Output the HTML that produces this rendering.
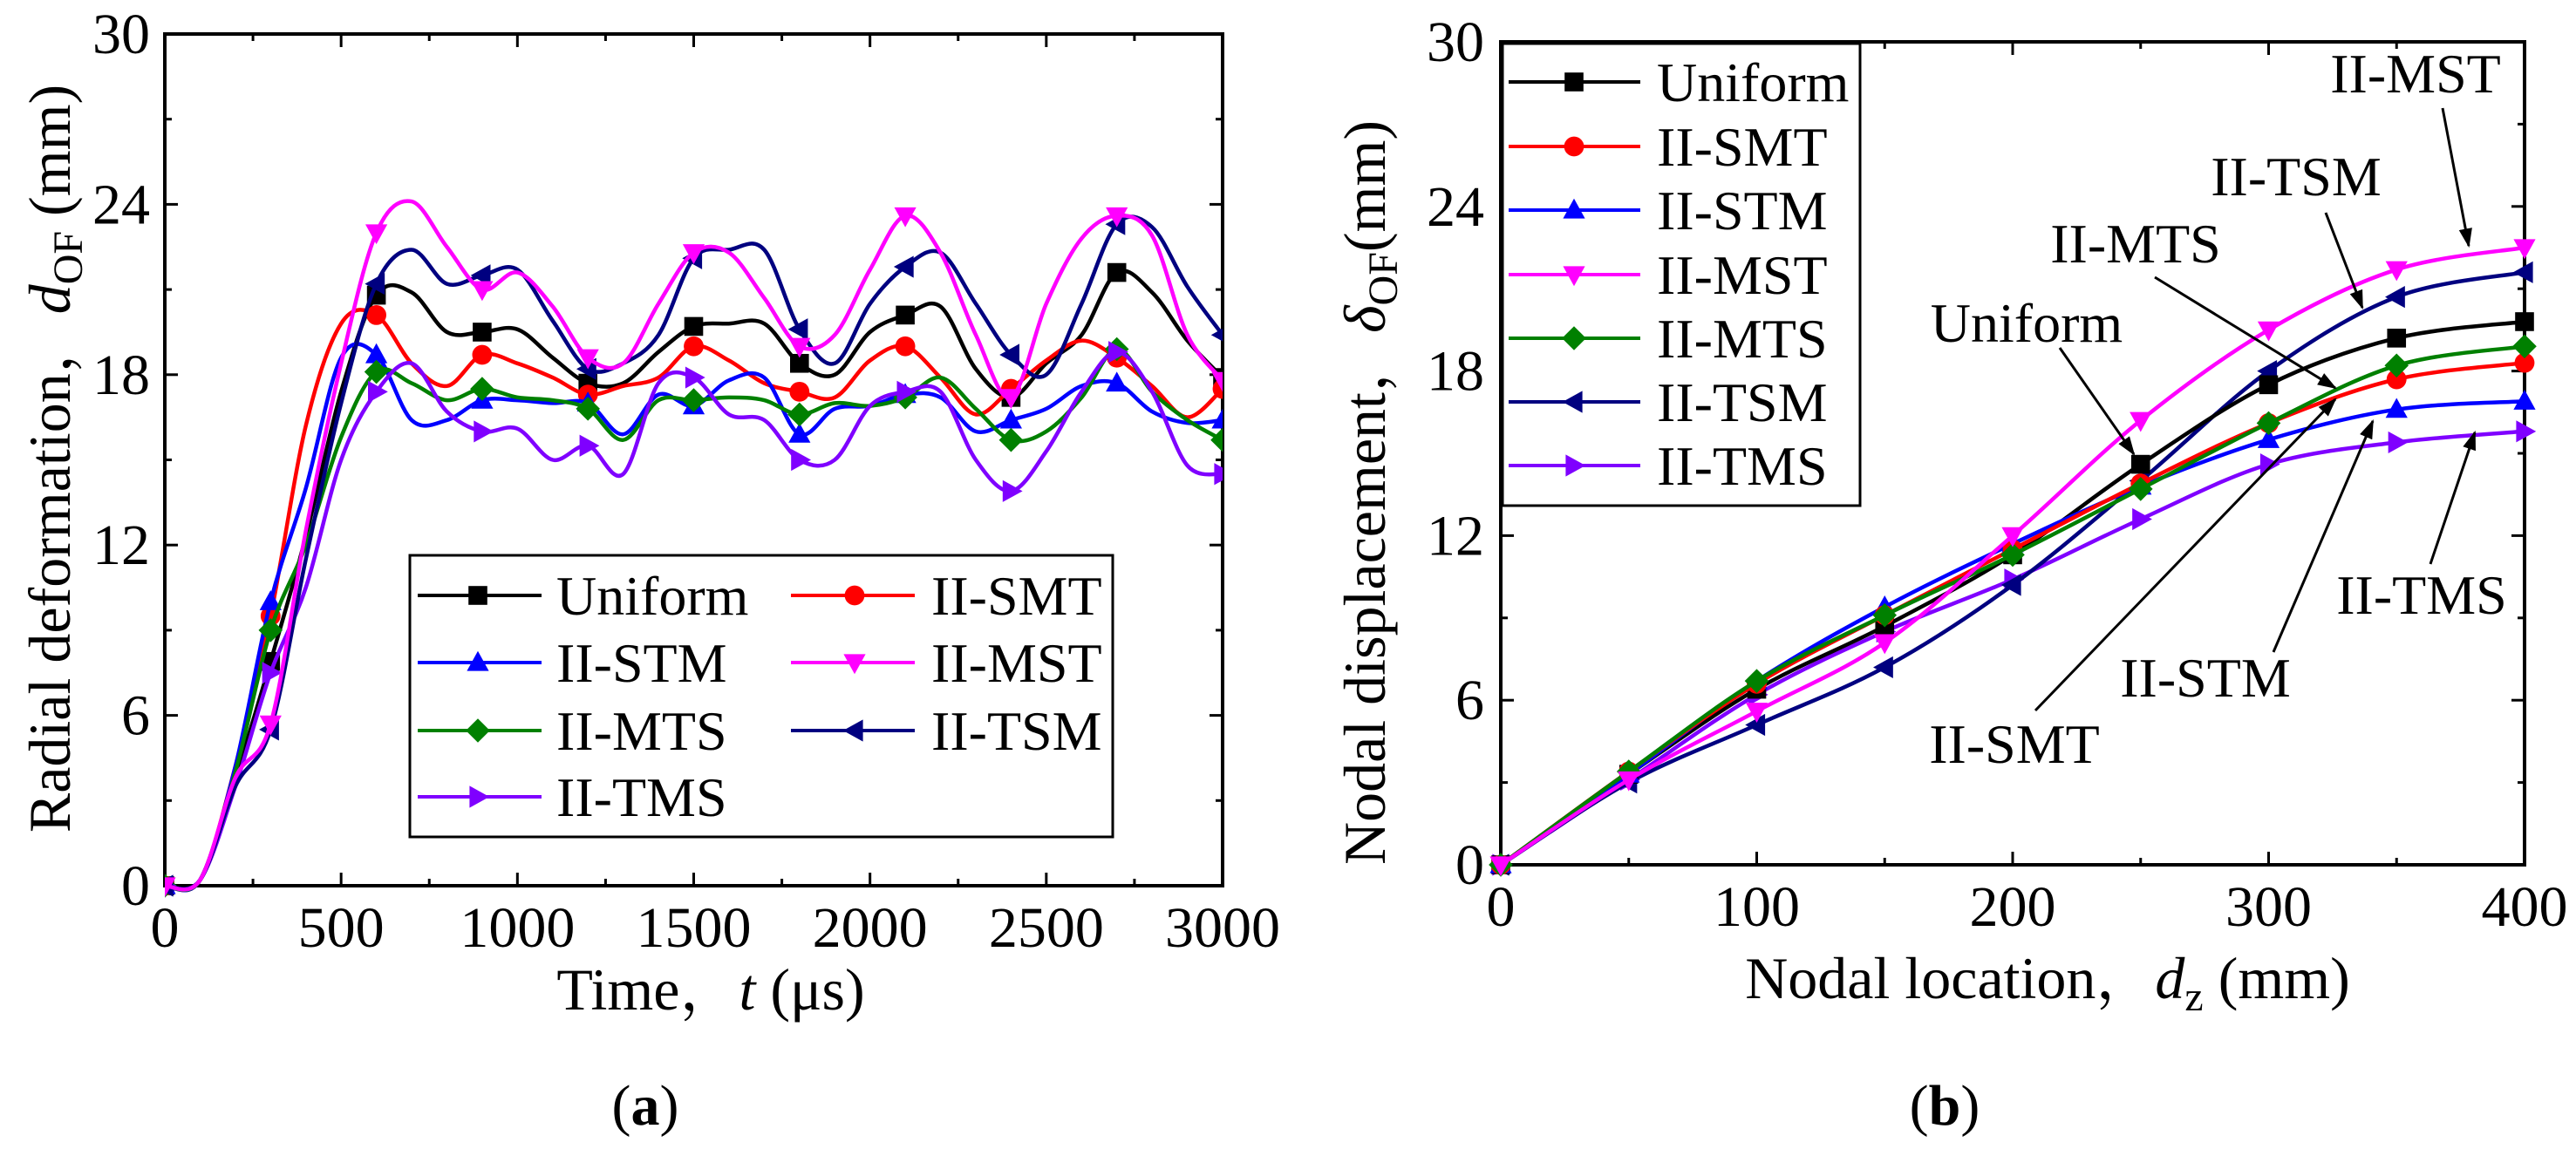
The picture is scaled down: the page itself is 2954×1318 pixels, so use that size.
<!DOCTYPE html>
<html><head><meta charset="utf-8"><style>
html,body{margin:0;padding:0;background:#fff;}
svg{display:block;font-family:"Liberation Serif","Noto Serif CJK SC",serif;}
</style></head><body>
<svg id="fig" width="2954" height="1318" viewBox="0 0 2954 1318" xmlns="http://www.w3.org/2000/svg">
<defs>
<marker id="arrow" viewBox="0 0 10 10" refX="9" refY="5" markerWidth="9" markerHeight="9" markerUnits="userSpaceOnUse" orient="auto">
<path d="M0,0 L10,5 L0,10 z" fill="#000"/>
</marker>
<marker id="arrowB" viewBox="0 0 10 10" refX="9" refY="5" markerWidth="22" markerHeight="22" markerUnits="userSpaceOnUse" orient="auto">
<path d="M0,1.5 L10,5 L0,8.5 z" fill="#000"/>
</marker>
</defs>
<g id="chartA"></g>
<g id="chartB"></g>
</svg>
<script>
// ---------- Chart (a) data ----------
const timeValues = [0,100,200,300,400,500,600,700,800,900,1000,1100,1200,1300,1400,1500,1600,1700,1800,1900,2000,2100,2200,2300,2400,2500,2600,2700,2800,2900,3000];
const aUniform = [0,0.2,3.8,7.9,12.3,17.4,20.8,20.9,19.5,19.5,19.6,18.6,17.7,17.7,18.8,19.7,19.8,19.8,18.4,18.0,19.5,20.1,20.4,18.2,17.2,18.4,19.4,21.6,20.9,19.2,17.9];
const aSMT = [0,0.2,4.2,9.5,16.2,19.8,20.1,18.4,17.6,18.7,18.4,17.9,17.3,17.6,17.9,19.0,18.5,17.7,17.4,17.2,18.5,19.0,17.9,16.6,17.5,18.5,19.2,18.6,17.6,16.5,17.5];
const aSTM = [0,0.2,4.2,10.0,14.0,18.6,18.7,16.4,16.4,17.1,17.1,17.0,17.0,15.9,17.3,16.9,17.8,17.9,15.9,16.8,16.9,17.3,17.2,16.0,16.4,16.8,17.6,17.7,16.7,16.3,16.4];
const aMST = [0,0.2,3.8,5.7,12.5,18.4,23.0,24.1,22.5,21.0,21.6,20.4,18.6,18.4,20.5,22.3,22.3,20.7,19.0,19.4,21.7,23.6,22.3,19.4,17.2,20.5,22.8,23.6,22.9,19.4,17.8];
const aMTS = [0,0.2,4.0,9.0,12.0,15.8,18.1,17.7,17.1,17.5,17.2,17.1,16.8,15.7,17.1,17.1,17.2,17.1,16.6,17.0,16.9,17.2,17.9,16.8,15.7,16.0,17.2,18.9,17.4,16.4,15.7];
const aTSM = [0,0.2,3.5,5.5,11.5,17.0,21.2,22.4,21.2,21.5,21.7,19.9,18.2,18.4,19.4,22.1,22.4,22.4,19.6,18.4,20.5,21.8,22.3,20.5,18.7,18.0,20.5,23.3,23.2,21.1,19.4];
const aTMS = [0,0.2,3.5,7.5,10.5,15.0,17.4,18.4,16.7,16.0,16.1,15.0,15.5,14.5,17.7,17.9,16.6,16.4,15.0,15.0,16.9,17.4,17.4,15.0,13.9,15.3,17.4,18.8,17.4,14.8,14.5];
const aXTicks = [0,500,1000,1500,2000,2500,3000];
const aYTicks = [0,6,12,18,24,30];

// ---------- Chart (b) data ----------
const locValues = [0,50,100,150,200,250,300,350,400];
const bUniform = [0,3.3,6.4,8.7,11.3,14.6,17.5,19.2,19.8];
const bSMT = [0,3.4,6.6,9.1,11.5,13.9,16.1,17.7,18.3];
const bSTM = [0,3.3,6.7,9.4,11.7,13.8,15.5,16.6,16.9];
const bMST = [0,3.1,5.6,8.1,12.0,16.2,19.5,21.7,22.5];
const bMTS = [0,3.4,6.7,9.1,11.3,13.7,16.1,18.2,18.9];
const bTSM = [0,3.0,5.1,7.2,10.2,14.0,18.0,20.7,21.6];
const bTMS = [0,3.1,6.2,8.5,10.4,12.6,14.6,15.4,15.8];
const bXTicks = [0,100,200,300,400];
const bYTicks = [0,6,12,18,24,30];

const seriesNames = ['Uniform','II-SMT','II-STM','II-MST','II-MTS','II-TSM','II-TMS'];
const seriesColors = ['#000000','#ff0000','#0000ff','#ff00ff','#008000','#000080','#7f00ff'];
const seriesShapes = ['square','circle','up','down','diamond','left','right'];

const NS='http://www.w3.org/2000/svg';
function el(tag, attrs, parent){const e=document.createElementNS(NS,tag);for(const k in attrs)e.setAttribute(k,attrs[k]);if(parent)parent.appendChild(e);return e;}

function smoothPath(pts){
  let d='M'+pts[0][0].toFixed(1)+','+pts[0][1].toFixed(1);
  for(let i=0;i<pts.length-1;i++){
    const p0=pts[i-1]||pts[i],p1=pts[i],p2=pts[i+1],p3=pts[i+2]||pts[i+1];
    const c1x=p1[0]+(p2[0]-p0[0])/6,c1y=p1[1]+(p2[1]-p0[1])/6;
    const c2x=p2[0]-(p3[0]-p1[0])/6,c2y=p2[1]-(p3[1]-p1[1])/6;
    d+=' C'+c1x.toFixed(1)+','+c1y.toFixed(1)+' '+c2x.toFixed(1)+','+c2y.toFixed(1)+' '+p2[0].toFixed(1)+','+p2[1].toFixed(1);
  }
  return d;
}

function drawMarker(g,shape,x,y,color,s){
  let m;
  const h=s/2;
  if(shape==='square') m=el('rect',{x:x-h*0.9,y:y-h*0.9,width:s*0.9,height:s*0.9,fill:color},g);
  else if(shape==='circle') m=el('circle',{cx:x,cy:y,r:h*0.95,fill:color},g);
  else {
    let p;
    if(shape==='up') p=[[x,y-h*1.1],[x+h*1.05,y+h*0.8],[x-h*1.05,y+h*0.8]];
    if(shape==='down') p=[[x,y+h*1.1],[x+h*1.05,y-h*0.8],[x-h*1.05,y-h*0.8]];
    if(shape==='left') p=[[x-h*1.1,y],[x+h*0.8,y-h*1.05],[x+h*0.8,y+h*1.05]];
    if(shape==='right') p=[[x+h*1.1,y],[x-h*0.8,y-h*1.05],[x-h*0.8,y+h*1.05]];
    if(shape==='diamond') p=[[x,y-h*1.15],[x+h*1.15,y],[x,y+h*1.15],[x-h*1.15,y]];
    m=el('polygon',{points:p.map(q=>q.join(',')).join(' '),fill:color},g);
  }
  
  
  return m;
}

function drawAxes(g,L,T,R,B,xmin,xmax,ymin,ymax,xticks,yticks,xminor,yminor,ylabRight){
  const sx=v=>L+(v-xmin)/(xmax-xmin)*(R-L);
  const sy=v=>B-(v-ymin)/(ymax-ymin)*(B-T);
  const frame=el('rect',{x:L,y:T,width:R-L,height:B-T,fill:'none',stroke:'#000','stroke-width':4},g);
  
  
  const tg=el('g',{stroke:'#000','stroke-width':3},g);
  
  
  for(let v=xmin;v<=xmax+1e-9;v+=xminor){
    const major=xticks.some(t=>Math.abs(t-v)<1e-6);const len=major?15:8;const x=sx(v);
    el('line',{x1:x,y1:B,x2:x,y2:B-len},tg);el('line',{x1:x,y1:T,x2:x,y2:T+len},tg);
  }
  for(let v=ymin;v<=ymax+1e-9;v+=yminor){
    const major=yticks.some(t=>Math.abs(t-v)<1e-6);const len=major?15:8;const y=sy(v);
    el('line',{x1:L,y1:y,x2:L+len,y2:y},tg);el('line',{x1:R,y1:y,x2:R-len,y2:y},tg);
  }
  xticks.forEach(v=>{
    const t=el('text',{x:sx(v),y:B+70,'font-size':66,'text-anchor':'middle',fill:'#000'},g);
    t.textContent=v;
    
    
  });
  yticks.forEach(v=>{
    const t=el('text',{x:ylabRight,y:sy(v)+22,'font-size':66,'text-anchor':'end',fill:'#000'},g);
    t.textContent=v;
    
    
  });
  return {sx,sy};
}

function drawSeries(g,sx,sy,xs,ys,i,markerEvery){
  const sg=el('g',{},g);
  
  
  const pts=xs.map((x,k)=>[sx(x),sy(ys[k])]);
  const p=el('path',{d:smoothPath(pts),fill:'none',stroke:seriesColors[i],'stroke-width':4.5,'stroke-linejoin':'round'},sg);
  
  
  pts.forEach((q,k)=>{ if(k%markerEvery===0) drawMarker(sg,seriesShapes[i],q[0],q[1],seriesColors[i],24); });
}

// ---------- Chart (a) ----------
(function(){
  const g=document.getElementById('chartA');
  const L=189,T=39,R=1402,B=1016;
  const {sx,sy}=drawAxes(g,L,T,R,B,0,3000,0,30,aXTicks,aYTicks,250,3,172);
  const data=[aUniform,aSMT,aSTM,aMST,aMTS,aTSM,aTMS];
  const cg=el('clipPath',{id:'clipA'},g);el('rect',{x:L,y:T,width:R-L,height:B-T+14},cg);
  const pg=el('g',{'clip-path':'url(#clipA)'},g);
  
  
  [0,1,2,4,6,5,3].forEach(i=>drawSeries(pg,sx,sy,timeValues,data[i],i,3));
  // legend
  const lg=el('g',{},g);
  
  
  el('rect',{x:470,y:637,width:806,height:323,fill:'#fff',stroke:'#000','stroke-width':3},lg);
  const rows=[683,760,838,914];
  const cols=[[479,621,548,638],[907,1049,980,1068]];
  seriesNames.forEach((n,i)=>{
    const c=cols[i%2],r=rows[Math.floor(i/2)];
    const eg=el('g',{},lg);
    
    
    el('line',{x1:c[0],y1:r,x2:c[1],y2:r,stroke:seriesColors[i],'stroke-width':4},eg);
    drawMarker(eg,seriesShapes[i],c[2],r,seriesColors[i],24);
    const t=el('text',{x:c[3],y:r+22,'font-size':64,fill:'#000'},eg);
    t.textContent=n;
  });
  // axis titles
  const xt=el('text',{x:815,y:1158,'font-size':68,'text-anchor':'middle',fill:'#000'},g);
  xt.innerHTML='Time，<tspan font-style="italic">t</tspan> (μs)';
  
  
  const yt=el('text',{transform:'translate(80,526) rotate(-90)','font-size':68,'text-anchor':'middle',fill:'#000'},g);
  yt.innerHTML='Radial deformation，<tspan font-style="italic">d</tspan><tspan dy="14" font-size="48">OF</tspan><tspan dy="-14"> (mm)</tspan>';
  
  
  const cap=el('text',{x:740,y:1290,'font-size':66,'text-anchor':'middle',fill:'#000'},g);
  cap.innerHTML='(<tspan font-weight="bold">a</tspan>)';
  
  
})();

// ---------- Chart (b) ----------
(function(){
  const g=document.getElementById('chartB');
  const L=1721,T=48,R=2895,B=992;
  const {sx,sy}=drawAxes(g,L,T,R,B,0,400,0,30,bXTicks,bYTicks,50,3,1702);
  const data=[bUniform,bSMT,bSTM,bMST,bMTS,bTSM,bTMS];
  const pg=el('g',{},g);
  
  
  [6,5,0,2,1,4,3].forEach(i=>drawSeries(pg,sx,sy,locValues,data[i],i,1));
  // legend
  const lg=el('g',{},g);
  
  
  el('rect',{x:1723,y:50,width:410,height:530,fill:'#fff',stroke:'#000','stroke-width':3},lg);
  const rows=[94,168,241,315,388,461,534];
  seriesNames.forEach((n,i)=>{
    const r=rows[i];
    const eg=el('g',{},lg);
    
    
    el('line',{x1:1730,y1:r,x2:1881,y2:r,stroke:seriesColors[i],'stroke-width':4},eg);
    drawMarker(eg,seriesShapes[i],1805,r,seriesColors[i],24);
    const t=el('text',{x:1900,y:r+22,'font-size':64,fill:'#000'},eg);
    t.textContent=n;
  });
  // annotations
  const ann=[
    ['II-MST',2770,106,2801,124,2831,282],
    ['II-TSM',2633,224,2667,244,2709,353],
    ['II-MTS',2449,301,2471,318,2678,445],
    ['Uniform',2324,392,2362,399,2447,521],
    ['II-TMS',2777,704,2787,647,2838,496],
    ['II-STM',2529,799,2607,748,2721,483],
    ['II-SMT',2310,875,2334,815,2678,458]
  ];
  ann.forEach(a=>{
    const ag=el('g',{},g);
    
    
    const t=el('text',{x:a[1],y:a[2],'font-size':64,'text-anchor':'middle',fill:'#000'},ag);
    t.textContent=a[0];
    el('line',{x1:a[3],y1:a[4],x2:a[5],y2:a[6],stroke:'#000','stroke-width':3,'marker-end':'url(#arrowB)'},ag);
  });
  const xt=el('text',{x:2348,y:1145,'font-size':68,'text-anchor':'middle',fill:'#000'},g);
  xt.innerHTML='Nodal location，<tspan font-style="italic">d</tspan><tspan dy="14" font-size="48">z</tspan><tspan dy="-14"> (mm)</tspan>';
  
  
  const yt=el('text',{transform:'translate(1588,565) rotate(-90)','font-size':68,'text-anchor':'middle',fill:'#000'},g);
  yt.innerHTML='Nodal displacement，<tspan font-style="italic">δ</tspan><tspan dy="14" font-size="48">OF</tspan><tspan dy="-14">(mm)</tspan>';
  
  
  const cap=el('text',{x:2230,y:1290,'font-size':66,'text-anchor':'middle',fill:'#000'},g);
  cap.innerHTML='(<tspan font-weight="bold">b</tspan>)';
  
  
})();
</script>
</body></html>
